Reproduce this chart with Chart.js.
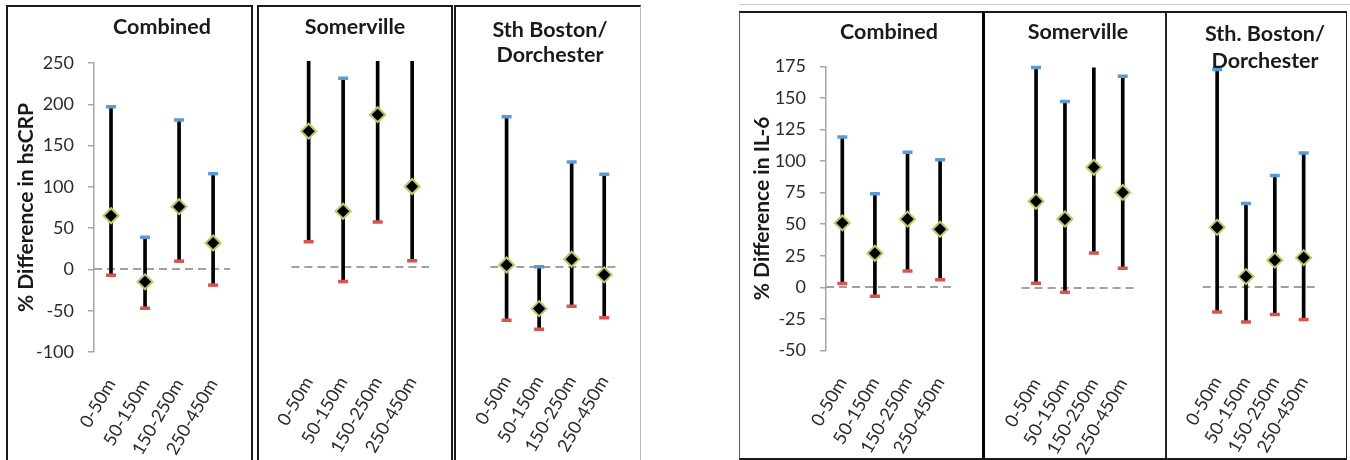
<!DOCTYPE html>
<html lang="en">
<head>
  <meta charset="UTF-8" />
  <title>% Difference in hsCRP and IL-6 by distance band</title>
  <script src="https://cdn.jsdelivr.net/npm/chart.js"></script>
  <style>
    body {
      margin: 0;
      width: 1350px;
      height: 460px;
      overflow: hidden;
      position: relative;
      background: #fff;
      font-family: 'Lato', sans-serif;
    }
    canvas { position: absolute; }
    .box {
      position: absolute;
      box-sizing: border-box;
      pointer-events: none;
    }
    .title {
      position: absolute;
      width: 200px;
      text-align: center;
      font-weight: 700;
      font-size: 21.5px;
      line-height: 25px;
      color: #1a1a1a;
    }
  </style>
</head>
<body>

<!-- hsCRP figure -->
<canvas id="crpCombined" width="248" height="452" style="left:8px;top:8px"></canvas>
<canvas id="crpSomerville" width="196" height="452" style="left:258px;top:8px"></canvas>
<canvas id="crpBoston" width="190" height="452" style="left:456px;top:8px"></canvas>

<div class="box" style="left:6px;top:5px;width:247px;height:470px;border:2px solid #1a1a1a"></div>
<div class="box" style="left:257px;top:5px;width:196px;height:470px;border:2px solid #1a1a1a"></div>
<div class="box" style="left:454px;top:5px;width:187px;height:470px;border:2px solid #1a1a1a;border-right:1px solid #bbb"></div>

<div class="title" style="left:62px;top:14px">Combined</div>
<div class="title" style="left:255px;top:14px">Somerville</div>
<div class="title" style="left:450px;top:17px">Sth Boston/<br>Dorchester</div>

<!-- IL-6 figure -->
<canvas id="il6Combined" width="242" height="444" style="left:741px;top:14px"></canvas>
<canvas id="il6Somerville" width="178" height="444" style="left:986px;top:14px"></canvas>
<canvas id="il6Boston" width="178" height="444" style="left:1167px;top:14px"></canvas>

<div class="box" style="left:739px;top:4px;width:611px;height:1px;background:#ccc"></div>
<div class="box" style="left:739px;top:11px;width:246px;height:449px;border:2px solid #1a1a1a;border-left:1.5px solid #555;border-right:3px solid #000"></div>
<div class="box" style="left:985px;top:11px;width:181px;height:449px;border:2px solid #1a1a1a;border-left:none;border-right:1.5px solid #222"></div>
<div class="box" style="left:1166px;top:11px;width:181px;height:449px;border:2px solid #1a1a1a;border-left:1.5px solid #222;border-right:1.5px solid #222"></div>

<div class="title" style="left:789px;top:19px">Combined</div>
<div class="title" style="left:978px;top:19px">Somerville</div>
<div class="title" style="left:1165px;top:20px;line-height:27px">Sth. Boston/<br>Dorchester</div>

<script>
const distanceBands = ['0-50m', '50-150m', '150-250m', '250-450m'];

// % difference in hsCRP: estimate, lower and upper 95% limit
const crpCombinedEst = [65, -15, 76, 32];
const crpCombinedLow = [-7, -47, 10, -19];
const crpCombinedHigh = [197, 39, 181, 116];
const crpSomervilleEst = [165, 68, 185, 98];
const crpSomervilleLow = [31, -17, 55, 8];
const crpSomervilleHigh = [436, 229, 424, 261];
const crpBostonEst = [2, -51, 9, -10];
const crpBostonLow = [-65, -76, -48, -62];
const crpBostonHigh = [182, 0, 127, 112];

// % difference in IL-6
const il6CombinedEst = [51, 27, 54, 46];
const il6CombinedLow = [3, -7, 13, 6];
const il6CombinedHigh = [119, 74, 107, 101];
const il6SomervilleEst = [69, 55, 96, 76];
const il6SomervilleLow = [4, -3, 28, 16];
const il6SomervilleHigh = [175, 148, 200, 168];
const il6BostonEst = [47, 8, 21, 23];
const il6BostonLow = [-20, -28, -22, -26];
const il6BostonHigh = [172, 66, 88, 106];

const crpAxis = { min: -100, max: 250, step: 50, title: '% Difference in hsCRP' };
const il6Axis = { min: -50, max: 175, step: 25, title: '% Difference in IL-6' };

const tickFont = { family: 'Lato', size: 18 };
const tickColor = '#2b2b2b';

function drawPanel(id, est, low, high, axis, lay) {
  const showAxis = lay.axisWidth > 0;
  new Chart(document.getElementById(id), {
    type: 'bar',
    data: {
      labels: distanceBands,
      datasets: [
        {
          type: 'line', data: est, showLine: false, order: 0, clip: 10,
          pointStyle: 'rectRot', pointRadius: 7.5,
          pointBackgroundColor: '#000', pointBorderColor: '#b5cc6a', pointBorderWidth: 2
        },
        {
          type: 'line', data: high, showLine: false, order: 1, clip: 4,
          pointStyle: 'line', pointRadius: 5,
          pointBorderColor: '#5b9bd5', pointBorderWidth: 3.5
        },
        {
          type: 'line', data: low, showLine: false, order: 1, clip: 4,
          pointStyle: 'line', pointRadius: 5,
          pointBorderColor: '#d9544f', pointBorderWidth: 3.5
        },
        {
          type: 'bar', data: low.map((v, i) => [v, high[i]]), order: 2, clip: 0,
          backgroundColor: '#000', barThickness: 3, borderWidth: 0
        }
      ]
    },
    options: {
      responsive: false,
      devicePixelRatio: 1,
      animation: false,
      events: [],
      layout: { padding: { left: lay.left, right: lay.right, top: lay.top, bottom: 0 } },
      plugins: { legend: { display: false }, tooltip: { enabled: false } },
      scales: {
        x: {
          type: 'category',
          offset: true,
          grid: { display: false, drawTicks: false },
          border: { display: false },
          ticks: { font: tickFont, color: tickColor, minRotation: 60, maxRotation: 60, padding: 23, autoSkip: false },
          afterFit: s => { s.height = lay.xHeight; }
        },
        y: {
          type: 'linear',
          display: showAxis,
          min: axis.min, max: axis.max,
          ticks: { stepSize: axis.step, font: tickFont, color: tickColor, padding: 14 },
          grid: { drawOnChartArea: false, drawTicks: true, tickLength: 6, color: '#a6a6a6', lineWidth: 1.5 },
          border: { color: '#a6a6a6', width: 1.5 },
          title: {
            display: true, text: axis.title, color: '#1a1a1a',
            font: { family: 'Lato', size: 21, weight: 'bold' },
            padding: { top: lay.titlePad, bottom: 0 }
          },
          afterFit: s => { s.width = lay.axisWidth; }
        },
        zero: {
          type: 'linear',
          position: 'right',
          min: axis.min, max: axis.max,
          ticks: { display: false, stepSize: axis.step },
          grid: {
            drawTicks: false, lineWidth: 2,
            color: c => (c.tick && c.tick.value === 0) ? '#a0a0a0' : 'rgba(0,0,0,0)'
          },
          border: { display: false, dash: [8, 5] },
          afterFit: s => { s.width = 0; }
        }
      }
    }
  });
}

drawPanel('crpCombined', crpCombinedEst, crpCombinedLow, crpCombinedHigh, crpAxis,
  { left: 0, right: 0, top: 55, xHeight: 108, axisWidth: 86, titlePad: 6 });
drawPanel('crpSomerville', crpSomervilleEst, crpSomervilleLow, crpSomervilleHigh, crpAxis,
  { left: 25, right: 9, top: 53, xHeight: 110, axisWidth: 0, titlePad: 0 });
drawPanel('crpBoston', crpBostonEst, crpBostonLow, crpBostonHigh, crpAxis,
  { left: 25.5, right: 4.5, top: 52.7, xHeight: 111, axisWidth: 0, titlePad: 0 });

drawPanel('il6Combined', il6CombinedEst, il6CombinedLow, il6CombinedHigh, il6Axis,
  { left: 0, right: 3, top: 52.3, xHeight: 107.5, axisWidth: 85, titlePad: 9 });
drawPanel('il6Somerville', il6SomervilleEst, il6SomervilleLow, il6SomervilleHigh, il6Axis,
  { left: 22.5, right: 4.3, top: 53.5, xHeight: 106.5, axisWidth: 0, titlePad: 0 });
drawPanel('il6Boston', il6BostonEst, il6BostonLow, il6BostonHigh, il6Axis,
  { left: 23.3, right: 2.7, top: 51.8, xHeight: 108.2, axisWidth: 0, titlePad: 0 });
</script>
</body>
</html>
